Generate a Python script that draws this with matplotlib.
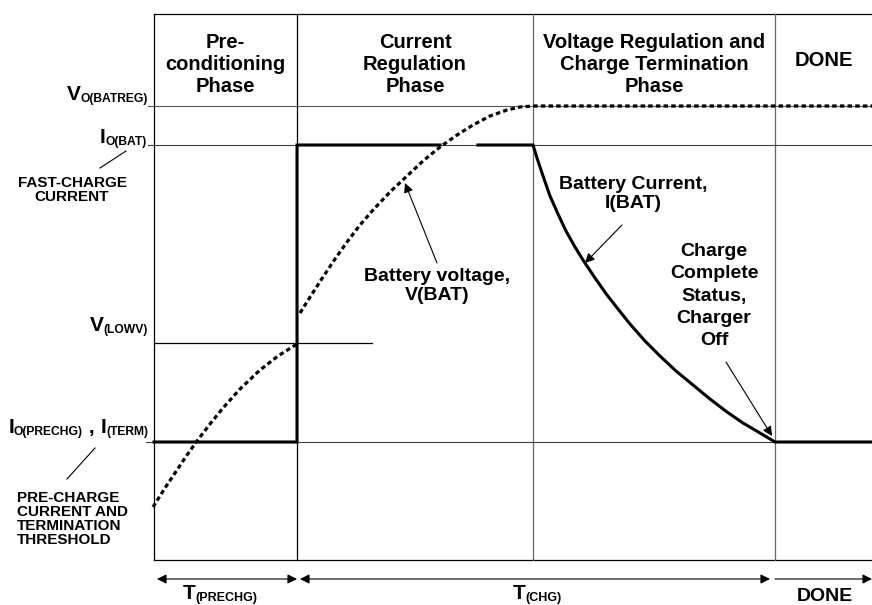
import numpy as np
import matplotlib.pyplot as plt

plt.rcParams['font.family'] = ['Liberation Sans', 'DejaVu Sans']
plt.rcParams['font.weight'] = 'bold'

# schematic time axis: phase boundaries
phase_edges = [154, 297, 533, 775, 872]
phase_names = ['Pre-\nconditioning\nPhase', 'Current\nRegulation\nPhase',
               'Voltage Regulation and\nCharge Termination\nPhase', 'DONE']
# reference levels (screen-like, larger = lower)
lvl_vreg = 106
lvl_ifast = 145
lvl_vlowv = 343
lvl_ipre = 442

# battery voltage V(BAT): pre-charge part, fast-charge part
v_pre_t = [153, 165, 177, 187, 197, 210, 223, 240, 260, 278, 297]
v_pre_v = [507, 488, 470, 455, 441, 424, 408, 389, 370, 356, 344]
v_fast_t = [300, 312, 323, 335, 347, 360, 373, 390, 407, 423, 440, 457, 473, 490, 507, 520, 533, 872]
v_fast_v = [313, 294, 277, 259, 242, 225, 210, 192, 176, 161, 147, 135, 125, 116, 110, 107, 106, 106]

# battery current I(BAT) (gap where the voltage trace crosses)
i_t = [154, 297, 297, 440, np.nan, 478, 533, 537, 542, 550, 558, 566, 575, 583, 595, 607,
       618, 630, 645, 660, 676, 693, 710, 727, 743, 760, 775, 872]
i_v = [442, 442, 145, 145, np.nan, 145, 145, 158, 173, 196, 214, 231, 247, 260, 278, 295,
       309, 324, 341, 356, 371, 385, 399, 412, 423, 433, 442, 442]

fig = plt.figure(figsize=(8.72, 6.05), dpi=100)
ax = fig.add_axes([0, 0, 1, 1])
ax.set_xlim(0, 872)
ax.set_ylim(605, 0)
ax.axis('off')
renderer = fig.canvas.get_renderer()


def sub_label(x, y, pieces, ha='right'):
    # pieces: (text, fontsize, baseline shift in px)
    txts = [ax.text(0, y + dy, s, fontsize=fs, fontweight='bold', va='baseline', ha='left')
            for s, fs, dy in pieces]
    widths = [t.get_window_extent(renderer).width for t in txts]
    total = sum(widths)
    start = {'right': x - total, 'center': x - total / 2}.get(ha, x)
    for t, w in zip(txts, widths):
        t.set_x(start)
        start += w


top, bot = 14, 560
x0, x1 = phase_edges[0], phase_edges[-1]

# frame
ax.plot([x0, x1], [top, top], color='black', lw=0.9)
ax.plot([x0, x1], [bot, bot], color='black', lw=0.9)
for k, x in enumerate(phase_edges[:-1]):
    c = 'black' if k < 2 else '0.4'
    ax.plot([x, x], [top, bot], color=c, lw=0.9)

# reference levels
ax.plot([148, x1], [lvl_vreg, lvl_vreg], color='0.35', lw=0.8)
ax.plot([148, x1], [lvl_ifast, lvl_ifast], color='0.25', lw=0.8)
ax.plot([x0, 372], [lvl_vlowv, lvl_vlowv], color='black', lw=0.9)
ax.plot([146, x1], [lvl_ipre, lvl_ipre], color='0.25', lw=0.8)

# curves
ax.plot(i_t, i_v, color='black', lw=2.2, solid_joinstyle='miter')
ax.plot(v_pre_t, v_pre_v, color='black', lw=2.3, linestyle=(0, (1.4, 1.0)))
ax.plot(v_fast_t, v_fast_v, color='black', lw=2.3, linestyle=(0, (1.4, 1.0)))

# phase headers
for k, name in enumerate(phase_names):
    xc = (phase_edges[k] + phase_edges[k + 1]) / 2
    ax.text(xc, 64 if k < 3 else 60, name, ha='center', va='center', fontsize=14.5,
            fontweight='bold', linespacing=1.2)

# left labels
big, small = 15, 8.7
sub_label(148, 100, [('V', big, 0), ('O(BATREG)', small, 2)])
sub_label(147, 143, [('I', big, 0), ('O(BAT)', small, 2)])
ax.text(72, 190, 'FAST-CHARGE\nCURRENT', ha='center', va='center', fontsize=11,
        linespacing=1.0)
ax.plot([100, 126], [168, 151], color='black', lw=0.8)
sub_label(148, 331, [('V', big, 0), ('(LOWV)', small, 2)])
sub_label(148, 433, [('I', big, 0), ('O(PRECHG)', small, 2), (' , ', big, 0),
                     ('I', big, 0), ('(TERM)', small, 2)])
ax.plot([95, 67], [448, 479], color='black', lw=0.8)
ax.text(17, 519, 'PRE-CHARGE\nCURRENT AND\nTERMINATION\nTHRESHOLD', ha='left',
        va='center', fontsize=11, linespacing=1.03)

# annotations
arw = dict(arrowstyle='-|>', color='black', lw=0.8, mutation_scale=14,
           shrinkA=0, shrinkB=0)
ax.text(437, 286, 'Battery voltage,\nV(BAT)', ha='center', va='center', fontsize=14,
        linespacing=1.15)
ax.annotate('', xy=(405, 183), xytext=(437, 263), arrowprops=arw)
ax.text(633, 194, 'Battery Current,\nI(BAT)', ha='center', va='center', fontsize=14,
        linespacing=1.15)
ax.annotate('', xy=(585, 263), xytext=(622, 225), arrowprops=arw)
ax.text(714, 296, 'Charge\nComplete\nStatus,\nCharger\nOff', ha='center', va='center',
        fontsize=14, linespacing=1.42)
ax.annotate('', xy=(772, 436), xytext=(726, 362), arrowprops=arw)

# time spans at the bottom
span = dict(arrowstyle='<|-|>', color='black', lw=0.8, mutation_scale=14,
            shrinkA=0, shrinkB=0)
ax.annotate('', xy=(157, 579), xytext=(297, 579), arrowprops=span)
ax.annotate('', xy=(300, 579), xytext=(770, 579), arrowprops=span)
ax.annotate('', xy=(775, 579), xytext=(872, 579),
            arrowprops=dict(arrowstyle='<|-', color='black', lw=0.8, mutation_scale=14,
                            shrinkA=0, shrinkB=0))
sub_label(220, 599, [('T', big, 0), ('(PRECHG)', 9, 2)], ha='center')
sub_label(537, 599, [('T', big, 0), ('(CHG)', 9, 2)], ha='center')
ax.text(825, 601, 'DONE', ha='center', va='baseline', fontsize=14)

fig.savefig('out.png', dpi=100)
